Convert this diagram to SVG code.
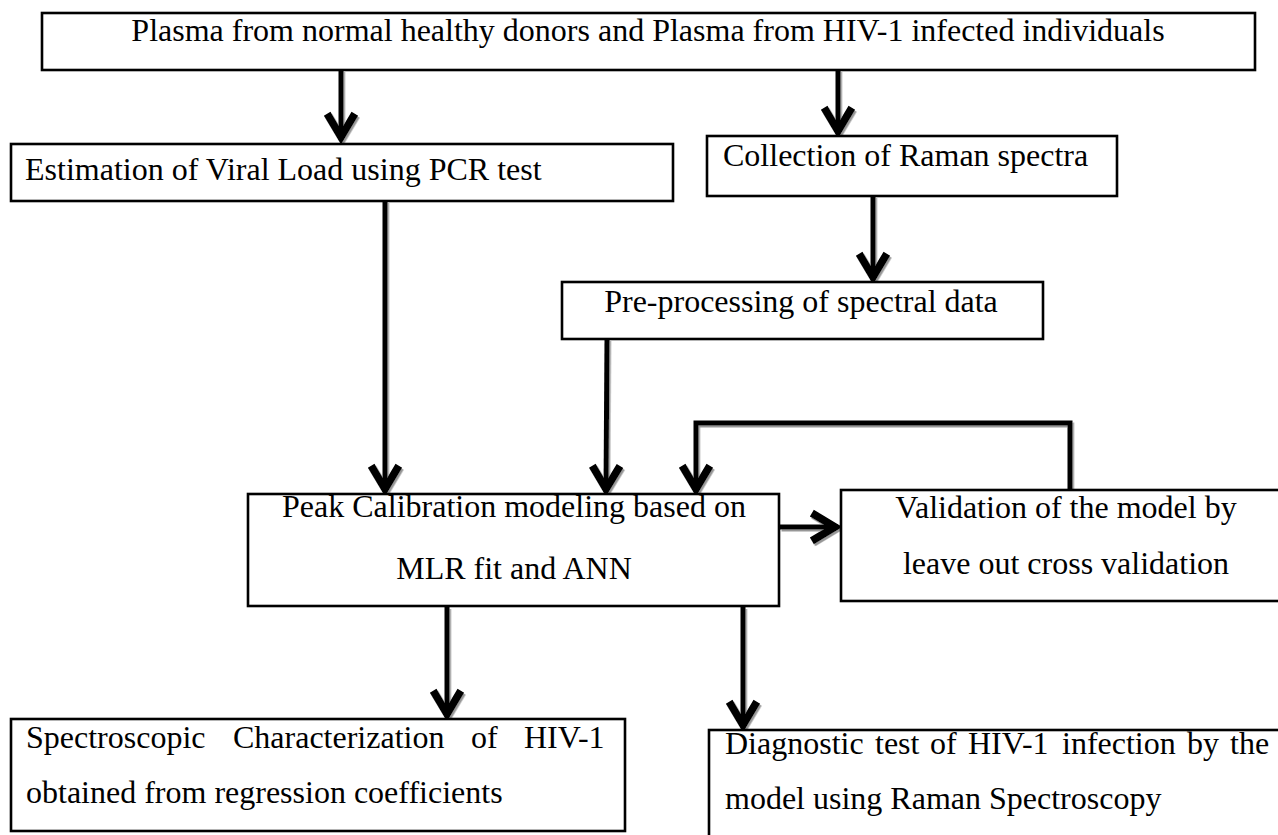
<svg xmlns="http://www.w3.org/2000/svg" width="1278" height="835" viewBox="0 0 1278 835">
  <style>
    .box { fill: #ffffff; stroke: #000000; stroke-width: 2.6; }
    .t { font-family: "Liberation Serif", "Times New Roman", serif; font-size: 32px; fill: #000000; }
    .c { text-anchor: middle; }
    .ln { fill: none; stroke: #000000; stroke-width: 5; stroke-linecap: butt; stroke-linejoin: miter; }
  </style>
  <defs>
    <marker id="arrow" markerUnits="userSpaceOnUse" markerWidth="40" markerHeight="40" viewBox="-20 -12 26 24" refX="2" refY="0" orient="auto" overflow="visible">
      <path d="M -15 -9 L 0 0 L -15 9" fill="none" stroke="#000000" stroke-width="5" stroke-linejoin="miter" stroke-miterlimit="6"/>
    </marker>
    <filter id="shadow" x="-20%" y="-20%" width="140%" height="140%">
      <feDropShadow dx="1.5" dy="2" stdDeviation="0.6" flood-color="#8c8c8c" flood-opacity="0.9"/>
    </filter>
  </defs>
  <rect width="1278" height="835" fill="#ffffff"/>

  <g id="connectors" filter="url(#shadow)">
    <path class="ln" d="M 341 70 L 341 140" marker-end="url(#arrow)"/>
    <path class="ln" d="M 838 70 L 838 134" marker-end="url(#arrow)"/>
    <path class="ln" d="M 873 196 L 873 280" marker-end="url(#arrow)"/>
    <path class="ln" d="M 385 201 L 385 492" marker-end="url(#arrow)"/>
    <path class="ln" d="M 607 339 L 606 492" marker-end="url(#arrow)"/>
    <path class="ln" d="M 1070 490 L 1070 423 L 696 423 L 696 492" marker-end="url(#arrow)"/>
    <path class="ln" d="M 780 527 L 838 527" marker-end="url(#arrow)"/>
    <path class="ln" d="M 447 607 L 447 717" marker-end="url(#arrow)"/>
    <path class="ln" d="M 743 607 L 743 728" marker-end="url(#arrow)"/>
  </g>

  <g id="node-plasma">
    <rect class="box" x="42" y="13" width="1213" height="57"/>
    <text class="t c" x="648" y="41">Plasma from normal healthy donors and Plasma from HIV-1 infected individuals</text>
  </g>

  <g id="node-viral-load">
    <rect class="box" x="11" y="144" width="662" height="57"/>
    <text class="t" x="25" y="180">Estimation of Viral Load using PCR test</text>
  </g>

  <g id="node-raman">
    <rect class="box" x="707" y="136" width="410" height="60"/>
    <text class="t" x="723" y="166">Collection of Raman spectra</text>
  </g>

  <g id="node-preprocessing">
    <rect class="box" x="562" y="282" width="481" height="57"/>
    <text class="t c" x="801" y="312">Pre-processing of spectral data</text>
  </g>

  <g id="node-peak">
    <rect class="box" x="248" y="494" width="531" height="112"/>
    <text class="t c" x="514" y="517">Peak Calibration modeling based on</text>
    <text class="t c" x="514" y="579">MLR fit and ANN</text>
  </g>

  <g id="node-validation">
    <rect class="box" x="841" y="490" width="440" height="111"/>
    <text class="t c" x="1066" y="518">Validation of the model by</text>
    <text class="t c" x="1066" y="574">leave out cross validation</text>
  </g>

  <g id="node-characterization">
    <rect class="box" x="11" y="719" width="614" height="112"/>
    <text class="t" y="748"><tspan x="26">Spectroscopic</tspan><tspan x="233">Characterization</tspan><tspan x="471">of</tspan><tspan x="524">HIV-1</tspan></text>
    <text class="t" x="26" y="803">obtained from regression coefficients</text>
  </g>

  <g id="node-diagnostic">
    <rect class="box" x="709" y="730" width="572" height="110"/>
    <text class="t" y="754"><tspan x="725">Diagnostic</tspan><tspan x="875">test</tspan><tspan x="930">of</tspan><tspan x="968">HIV-1</tspan><tspan x="1062">infection</tspan><tspan x="1187">by</tspan><tspan x="1230">the</tspan></text>
    <text class="t" x="725" y="809">model using Raman Spectroscopy</text>
  </g>
</svg>
